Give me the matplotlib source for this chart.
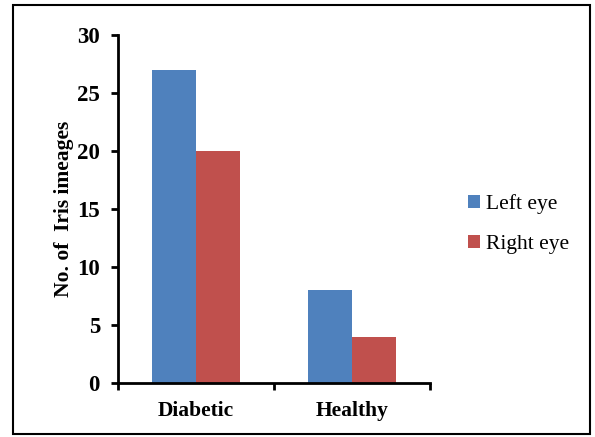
import matplotlib
matplotlib.use("Agg")
import matplotlib.pyplot as plt
import numpy as np
from matplotlib.patches import Rectangle

categories = ["Diabetic", "Healthy"]
left_eye = [27, 8]
right_eye = [20, 4]
series_labels = ["Left eye", "Right eye"]
y_ticks = [0, 5, 10, 15, 20, 25, 30]

plt.rcParams["font.family"] = ["Liberation Serif", "DejaVu Serif"]

W, H = 595, 437
fig = plt.figure(figsize=(W / 100, H / 100), dpi=100)
ax = fig.add_axes([118 / W, 1 - 383 / H, (430 - 118) / W, (383 - 35) / H])

x = np.arange(len(categories))
bw = 0.285
ax.bar(x - bw / 2, left_eye, bw, color="#4F81BD", label=series_labels[0])
ax.bar(x + bw / 2, right_eye, bw, color="#C0504D", label=series_labels[1])

ax.set_xlim(-0.5, len(categories) - 0.5)
ax.set_ylim(0, 30)
ax.set_yticks(y_ticks)
ax.set_xticks(np.arange(len(categories) + 1) - 0.5)
ax.set_xticklabels([])
ax.set_xticks(x, minor=True)
ax.set_xticklabels(categories, minor=True, fontsize=15.5, fontweight="bold")
ax.tick_params(axis="x", which="minor", length=0, pad=13)
ax.tick_params(axis="x", which="major", direction="out", length=5, width=2)
ax.tick_params(axis="y", direction="out", length=5, width=2, labelsize=16.5, pad=8)
for lbl in ax.get_yticklabels():
    lbl.set_fontweight("bold")

for s in ["top", "right"]:
    ax.spines[s].set_visible(False)
for s in ["left", "bottom"]:
    ax.spines[s].set_linewidth(2)

ax.set_ylabel("No. of  Iris imeages", fontsize=15.5, fontweight="bold", labelpad=2)

ax.legend(loc="center left", bbox_to_anchor=(449 / W, 1 - 224 / H),
          bbox_transform=fig.transFigure, frameon=False, fontsize=15.5,
          handlelength=0.55, handleheight=0.55, handletextpad=0.25, labelspacing=1.0)

fig.patches.append(Rectangle((13 / W, 3 / H), (590 - 13) / W, (432 - 3) / H,
                             transform=fig.transFigure, fill=False,
                             edgecolor="black", linewidth=1.5))

fig.savefig("out.png", dpi=100)
